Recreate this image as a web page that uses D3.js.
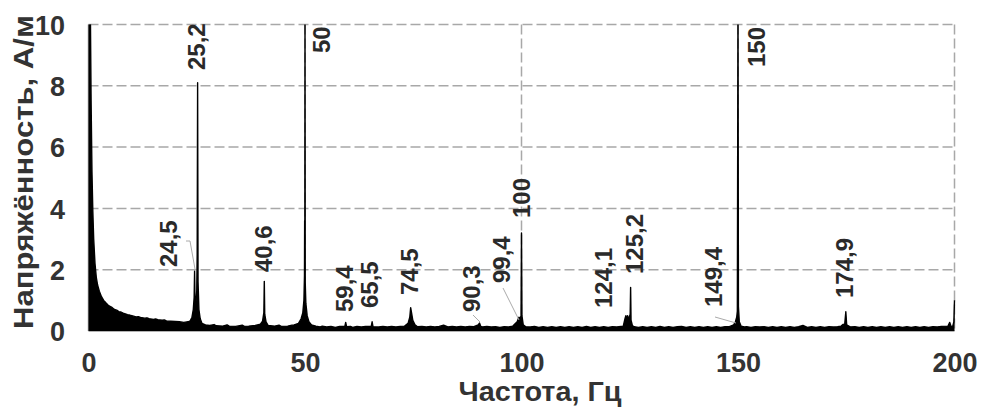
<!DOCTYPE html>
<html>
<head>
<meta charset="utf-8">
<script src="https://cdn.jsdelivr.net/npm/d3@7"></script>
<style>
  html, body { margin: 0; padding: 0; background: #fff; }
  svg { display: block; font-family: "Liberation Sans", Arial, sans-serif; }
</style>
</head>
<body>
<svg id="chart" width="981" height="408"></svg>
<script>
// ---------------- DATA ----------------
const xTicks = [0, 50, 100, 150, 200];
const yTicks = [0, 2, 4, 6, 8, 10];
const xTitle = "Частота, Гц";
const yTitle = "Напряжённость, А/м";

// spectrum: [frequency Hz, amplitude A/m]
const spectrum = [
  [0,11],[0.4,11],[0.6,7.5],[0.8,5.2],[1.0,3.9],[1.2,3.0],[1.5,2.2],[1.8,1.75],[2.1,1.5],[2.5,1.3],
  [3.0,1.12],[3.5,1.0],[4.0,0.92],[4.5,0.85],[5.0,0.8],[5.5,0.76],[6.0,0.7],[6.5,0.68],[7.0,0.63],[7.5,0.62],
  [8.0,0.58],[8.5,0.56],[9.0,0.53],[9.5,0.52],[10,0.5],[11,0.46],[11.5,0.47],[12,0.44],[13,0.42],[13.5,0.43],
  [14,0.4],[15,0.38],[15.5,0.39],[16,0.37],[17,0.35],[17.5,0.36],[18,0.33],[19,0.32],[20,0.31],[21,0.3],
  [22,0.28],[23,0.3],[23.5,0.33],[23.9,0.45],[24.2,0.7],[24.4,1.1],[24.5,1.95],[24.6,1.0],[24.8,0.9],[25.0,1.3],
  [25.1,2.5],[25.2,8.1],[25.3,1.6],[25.5,0.7],[25.8,0.4],[26.2,0.25],[27,0.2],[28,0.18],[29,0.21],[29.5,0.17],
  [31,0.16],[32,0.2],[32.5,0.16],[34,0.15],[35.5,0.19],[36,0.15],[37,0.16],[38.5,0.18],[39.7,0.22],[40.2,0.32],
  [40.5,0.6],[40.6,1.62],[40.7,0.55],[41.0,0.3],[41.5,0.18],[43,0.16],[44,0.19],[44.5,0.15],[46,0.16],[47,0.19],
  [47.5,0.2],[48.5,0.25],[49.1,0.4],[49.5,0.6],[49.75,1.0],[49.88,1.8],[49.92,3.6],[49.97,3.6],[50.0,11],[50.05,1.6],
  [50.2,0.9],[50.5,0.5],[50.9,0.3],[51.5,0.2],[52.5,0.16],[53.5,0.13],[54,0.16],[55,0.13],[56,0.15],[57,0.12],
  [58,0.15],[59.2,0.15],[59.4,0.28],[59.6,0.14],[60.5,0.15],[61,0.12],[62,0.15],[63,0.13],[64,0.15],[65.3,0.15],
  [65.5,0.3],[65.7,0.14],[67,0.13],[68,0.15],[69,0.13],[70,0.15],[71,0.13],[72,0.15],[73,0.16],[73.8,0.25],
  [74.2,0.45],[74.4,0.76],[74.6,0.6],[74.9,0.35],[75.4,0.2],[76,0.14],[77,0.15],[78,0.13],[79,0.15],[80,0.13],
  [81,0.15],[82,0.19],[83,0.13],[84,0.15],[85,0.13],[86,0.15],[87,0.13],[88,0.15],[89,0.14],[90,0.2],
  [90.3,0.26],[90.6,0.15],[91,0.13],[92,0.15],[93,0.13],[94,0.14],[95,0.12],[96,0.14],[97,0.13],[98,0.16],
  [99,0.3],[99.4,0.45],[99.7,0.4],[99.9,0.5],[100.0,3.2],[100.1,0.5],[100.4,0.2],[101,0.14],[102,0.13],[103,0.15],
  [104,0.12],[105,0.14],[106,0.12],[107,0.14],[108,0.12],[109,0.14],[110,0.12],[111,0.14],[112,0.12],[113,0.14],
  [114,0.12],[115,0.15],[116,0.12],[117,0.14],[118,0.12],[119,0.14],[120,0.12],[121,0.14],[122,0.13],[123.5,0.16],
  [123.9,0.4],[124.1,0.5],[124.3,0.35],[124.5,0.5],[124.7,0.4],[124.9,0.45],[125.1,0.55],[125.2,1.42],[125.3,0.35],[125.6,0.18],
  [126,0.14],[127,0.12],[128,0.14],[129,0.12],[130,0.14],[131,0.12],[132,0.15],[133,0.12],[134,0.14],[135,0.12],
  [136,0.14],[137,0.15],[138,0.12],[139,0.14],[140,0.12],[141,0.14],[142,0.12],[143,0.14],[144,0.12],[145,0.14],
  [146,0.12],[147,0.14],[148,0.14],[149,0.2],[149.4,0.3],[149.7,0.45],[149.85,0.65],[150,11],[150.1,0.8],[150.3,0.3],
  [150.7,0.16],[151.5,0.13],[152,0.14],[153,0.12],[154,0.14],[155,0.13],[156,0.14],[157,0.12],[158,0.14],[159,0.12],
  [160,0.14],[161,0.12],[162,0.14],[163,0.12],[164,0.14],[165,0.18],[166,0.12],[167,0.14],[168,0.12],[169,0.14],
  [170,0.12],[171,0.14],[172,0.13],[173,0.14],[173.8,0.16],[174.3,0.22],[174.6,0.15],[174.9,0.63],[175.1,0.2],[176,0.13],
  [177,0.14],[178,0.12],[179,0.14],[180,0.12],[181,0.14],[182,0.12],[183,0.14],[184,0.12],[185,0.14],[186,0.12],
  [187,0.14],[188,0.12],[189,0.14],[190,0.12],[191,0.14],[192,0.12],[193,0.14],[194,0.12],[195,0.14],[196,0.13],
  [197,0.15],[198.5,0.16],[198.9,0.28],[199.2,0.15],[199.6,0.16],[199.85,0.3],[200,1.0]
];

// peak annotation texts
const peakLabels = ["25,2","50","150","24,5","40,6","59,4","65,5","74,5","90,3","99,4","100","124,1","125,2","149,4","174,9"];

// ---------------- LAYOUT ----------------
// label baseline x / bottom y in pixels (same order as peakLabels)
const labelLayout = [
  [205,70],[330,53],[765,67],[177,267],[272,272],[353,312],[378,308],[418,295],
  [480,312],[510,283],[530,218],[612,308],[643,274],[722,307],[853,298]
];
// leader lines (pixels)
const leaders = [
  [[186,241],[190,241],[195,269]],
  [[473,315],[480,322]],
  [[503,288],[519,320]],
  [[715,317],[736,323]]
];

const svg = d3.select("#chart");
const X0 = 88.5, X1 = 954.5, Y0 = 331, Y1 = 24.5;
const x = d3.scaleLinear().domain([0,200]).range([X0,X1]);
const y = d3.scaleLinear().domain([0,10]).range([Y0,Y1]);

const gridColor = "#a8a8a8";
const textColor = "#333";

// grid
const grid = svg.append("g");
grid.selectAll("line.h").data(yTicks.filter(d => d > 0)).enter().append("line")
  .attr("x1", X0).attr("x2", X1).attr("y1", d => y(d)).attr("y2", d => y(d))
  .attr("stroke", gridColor).attr("stroke-width", 1.5).attr("stroke-dasharray", "10,4");
grid.selectAll("line.v").data(xTicks.filter(d => d > 0)).enter().append("line")
  .attr("x1", d => x(d)).attr("x2", d => x(d)).attr("y1", Y1).attr("y2", Y0)
  .attr("stroke", gridColor).attr("stroke-width", 1.5).attr("stroke-dasharray", "10,4");

// axis lines
svg.append("line").attr("x1", X0).attr("x2", X0).attr("y1", Y1).attr("y2", Y0)
  .attr("stroke", "#999").attr("stroke-width", 1.5);
svg.append("line").attr("x1", X0).attr("x2", X1).attr("y1", Y0).attr("y2", Y0)
  .attr("stroke", "#999").attr("stroke-width", 1.5);

// clip
svg.append("clipPath").attr("id","clip").append("rect")
  .attr("x", X0 - 1).attr("y", Y1).attr("width", X1 - X0 + 3).attr("height", Y0 - Y1 + 1);

const area = d3.area().x(d => x(d[0])).y0(Y0).y1(d => y(d[1]));
const line = d3.line().x(d => x(d[0])).y(d => y(d[1]));
const sg = svg.append("g").attr("clip-path", "url(#clip)");
sg.append("path").datum(spectrum).attr("d", area).attr("fill", "#000");
sg.append("path").datum(spectrum).attr("d", line).attr("fill", "none")
  .attr("stroke", "#000").attr("stroke-width", 1.4).attr("stroke-linejoin", "round");

// axes labels (ticks)
const xAxis = d3.axisBottom(x).tickValues(xTicks).tickSize(0).tickPadding(0).tickFormat(d3.format("d"));
const gx = svg.append("g").attr("transform", `translate(0,${Y0})`).call(xAxis);
gx.select(".domain").remove();
gx.selectAll("text").attr("y", 41).attr("dy", null)
  .style("font-family", '"Liberation Sans", Arial, sans-serif').style("font-size", "27px")
  .style("font-weight", "bold").attr("fill", textColor);

const yAxis = d3.axisLeft(y).tickValues(yTicks).tickSize(0).tickPadding(0).tickFormat(d3.format("d"));
const gy = svg.append("g").attr("transform", `translate(65,0)`).call(yAxis);
gy.select(".domain").remove();
gy.selectAll("text").attr("x", 0).attr("dy", "0.36em")
  .style("font-family", '"Liberation Sans", Arial, sans-serif').style("font-size", "27px")
  .style("font-weight", "bold").attr("fill", textColor);

// titles
svg.append("text").attr("x", 540).attr("y", 401).attr("text-anchor", "middle")
  .attr("textLength", 163).attr("lengthAdjust", "spacingAndGlyphs")
  .style("font-size", "27px").style("font-weight", "bold").attr("fill", textColor).text(xTitle);
svg.append("text").attr("transform", "translate(33,172) rotate(-90)").attr("text-anchor", "middle")
  .attr("textLength", 314).attr("lengthAdjust", "spacingAndGlyphs")
  .style("font-size", "28px").style("font-weight", "bold").attr("fill", textColor).text(yTitle);

// leaders
svg.selectAll("polyline.leader").data(leaders).enter().append("polyline")
  .attr("points", d => d.map(p => p.join(",")).join(" "))
  .attr("fill", "none").attr("stroke", "#aaa").attr("stroke-width", 1);

// peak labels
svg.selectAll("text.peak").data(peakLabels).enter().append("text")
  .attr("class", "peak")
  .attr("transform", (d, i) => `translate(${labelLayout[i][0]},${labelLayout[i][1]}) rotate(-90)`)
  .attr("text-anchor", "start")
  .style("font-size", "24px").style("font-weight", "bold").attr("fill", "#2a2a2a")
  .text(d => d);
</script>
</body>
</html>
